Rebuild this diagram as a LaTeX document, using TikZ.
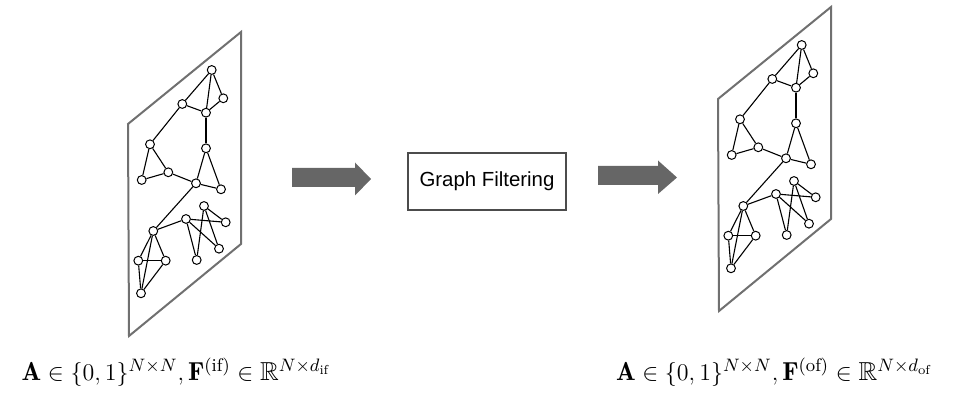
\documentclass[tikz,border=0pt]{standalone}
\usepackage{amssymb}
\usepackage{fontspec}
\newfontfamily\arialfont{Liberation Sans}
\definecolor{planegray}{RGB}{112,112,112}
\definecolor{arrowgray}{RGB}{102,102,102}
\begin{document}
\begin{tikzpicture}[x=0.5pt,y=-0.5pt,
        vertex/.style={draw,circle,fill=white,inner sep=0pt,minimum size=4.4pt,line width=0.5pt},
        link/.style={line width=0.55pt}]
        \useasboundingbox (0,0) rectangle (955,415);
        %% Input and output graphs
        \foreach \dx/\dy/\g in {0/0/in,590/-25/out} {
            \begin{scope}[shift={(\dx,\dy)}]
                \draw[planegray,line width=1pt] (128,124) -- (241,32) -- (241,244) -- (129,336) -- cycle;
                \foreach \i/\x/\y in {1/211.7/70,2/223.3/98.3,3/182.3/104,4/206/112.7,5/150/144.3,
                        6/206/148.3,7/168.3/172.3,8/141.7/180,9/196/183.3,10/221/189.3,
                        11/204/206,12/186/219,13/225.7/222.3,14/153.3/231,15/219/248.7,
                        16/138.3/260.7,17/165.7/260.7,18/196.7/260,19/141/293.3}
                    \node[vertex] (\g\i) at (\x,\y) {};
                \foreach \a/\b in {1/2,1/3,1/4,2/4,3/4,3/5,4/6,5/7,5/8,7/8,7/9,6/9,6/10,9/10,
                        9/14,12/14,12/13,12/15,12/18,11/13,11/15,11/18,
                        14/16,14/17,14/19,16/17,16/19,17/19}
                    \draw[link] (\g\a) -- (\g\b);
            \end{scope}
        }
        %% Filtering box
        \node[draw=black!70,line width=0.6pt,minimum width=79pt,minimum height=28.5pt,
            font=\arialfont\fontsize{10.2}{12}\selectfont] (filter) at (487,181.5) {Graph Filtering};
        %% Block arrows
        \fill[arrowgray] (292,168) -- (355,168) -- (355,162.5) -- (371,179) -- (355,195.5)
            -- (355,187) -- (292,187) -- cycle;
        \fill[arrowgray] (598,166) -- (658,166) -- (658,160.5) -- (677,177.5) -- (658,194)
            -- (658,185) -- (598,185) -- cycle;
        %% Labels
        \node[font=\fontsize{13}{15}\selectfont] (inlabel) at (176,372)
            {$\mathbf{A}\in\{0,1\}^{N\times N},\mathbf{F}^{(\mathrm{if})}\in\mathbb{R}^{N\times d_{\mathrm{if}}}$};
        \node[font=\fontsize{13}{15}\selectfont] (outlabel) at (774,372)
            {$\mathbf{A}\in\{0,1\}^{N\times N},\mathbf{F}^{(\mathrm{of})}\in\mathbb{R}^{N\times d_{\mathrm{of}}}$};
    \end{tikzpicture}
\end{document}
